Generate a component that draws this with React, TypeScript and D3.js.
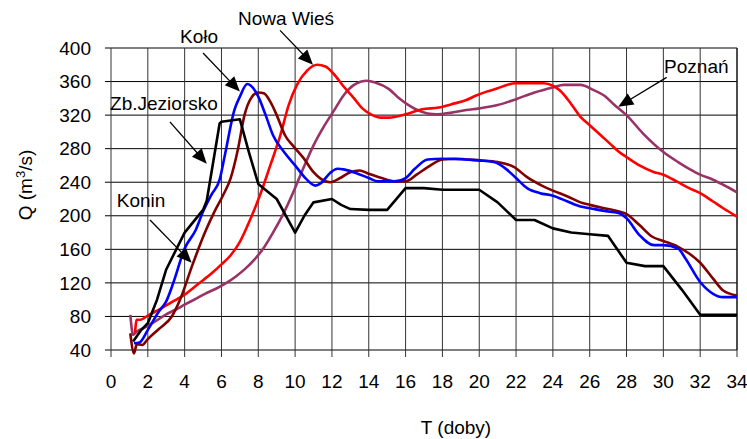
import React from 'react';
import * as d3 from 'd3';

// Q (m3/s) vs T (doby) for the Warta gauges
const xTicks = d3.range(0, 35, 2);
const yTicks = d3.range(40, 401, 40);

const jeziorsko: [number, number][] = [
  [1.2, 50], [1.65, 64], [2, 72], [2.5, 100], [3, 136], [4, 180], [5, 207], [5.2, 218],
  [5.9, 310], [6, 312], [7, 315], [7.5, 275], [8, 238], [8.5, 229], [9, 220], [10, 180],
  [10.5, 200], [11, 216], [12, 220], [12.5, 213], [13, 208], [14, 207], [15, 207],
  [16, 233], [17, 233], [18, 231], [20, 231], [21, 216], [22, 195], [23, 195], [24, 185],
  [25, 180], [26, 178], [27, 176], [28, 144], [29, 140], [30, 140], [31, 112], [32, 82], [34, 82],
];

const kolo: [number, number][] = [
  [1.25, 48], [1.55, 49], [2, 64], [2.6, 86], [3, 98], [3.4, 121], [4, 161], [4.6, 183],
  [5, 205], [5.45, 225], [5.9, 243], [6.2, 274], [6.7, 326], [7, 342], [7.4, 357], [7.6, 355],
  [8, 342], [8.4, 320], [8.8, 296], [9.4, 276], [10, 260], [10.6, 244], [11.1, 236],
  [11.4, 239], [11.9, 251], [12.3, 256], [12.7, 255], [13.3, 251], [14, 245], [14.5, 241],
  [15.4, 241], [16, 245], [16.5, 256], [17.2, 267], [18, 268], [20, 266], [20.8, 264],
  [21.5, 255], [22, 245], [22.6, 233], [23.3, 227], [24, 224], [24.8, 217], [25.5, 211],
  [26, 209], [27, 205], [27.6, 203], [28, 197], [28.7, 177], [29.5, 165], [30, 165],
  [30.8, 161], [31.2, 149], [32, 121], [32.7, 107], [33.25, 103], [34, 103],
];

const konin: [number, number][] = [
  [1.05, 60], [1.25, 36], [1.4, 47], [1.7, 46], [2, 53], [2.6, 65], [3.3, 80], [3.75, 100],
  [4.4, 140], [5.1, 180], [5.6, 204], [6.1, 225], [6.5, 245], [6.9, 280], [7.25, 320],
  [7.6, 340], [8, 347], [8.3, 346], [8.65, 336], [9, 320], [9.45, 296], [9.9, 283],
  [10.45, 269], [11, 252], [11.4, 244], [11.9, 240], [12.45, 245], [13, 252], [13.5, 254],
  [14, 250], [14.7, 245], [15.45, 241], [16, 241], [16.6, 249], [17.2, 258], [18, 267],
  [18.7, 268], [20, 266], [21, 264], [21.9, 258], [22.6, 246], [23.4, 236], [24, 230],
  [24.8, 223], [25.5, 216], [26, 213], [27, 208], [27.6, 205], [28, 202], [28.7, 189],
  [29.4, 175], [30, 170], [30.8, 163], [31.4, 155], [32, 144], [32.7, 125], [33.25, 111], [34, 105],
];

const nowaWies: [number, number][] = [
  [1.3, 60], [1.4, 76], [1.6, 76], [2, 81], [2.75, 90], [3.3, 97], [4, 106], [4.75, 119],
  [5.5, 132], [6, 142], [6.5, 153], [7, 169], [7.55, 195], [8.1, 225], [8.65, 260],
  [9.2, 296], [9.65, 332], [10.1, 356], [10.65, 373], [11.2, 380], [11.65, 378], [12.1, 369],
  [12.6, 355], [13.2, 340], [13.65, 328], [14.2, 320], [14.65, 317], [15.1, 317], [16, 321],
  [16.9, 327], [17.8, 329], [18.5, 333], [19.3, 338], [19.8, 343], [20.4, 348], [21, 352],
  [21.5, 356], [22, 358], [23.5, 358], [24, 355], [24.4, 349], [25, 333], [25.5, 318],
  [26, 308], [26.6, 296], [27.1, 286], [27.6, 276], [28, 270], [28.7, 260], [29.5, 252],
  [30, 249], [30.8, 240], [31.4, 233], [32, 227], [32.7, 217], [33.25, 209], [34, 199],
];

const poznan: [number, number][] = [
  [1.05, 82], [1.2, 58], [1.4, 62], [1.85, 67], [2.4, 74], [2.95, 82], [3.5, 88], [4, 94],
  [4.6, 101], [5.1, 107], [5.7, 113], [6.2, 119], [6.8, 128], [7.3, 137], [7.8, 148],
  [8.3, 162], [8.8, 180], [9.35, 202], [9.9, 228], [10.45, 257], [11, 284], [11.55, 306],
  [12.1, 325], [12.65, 344], [13.2, 356], [13.9, 361], [14.35, 359], [15.1, 351],
  [15.65, 340], [16.55, 327], [17.2, 322], [17.7, 321], [18.5, 323], [19.3, 326], [20, 328],
  [21, 332], [22, 339], [23, 347], [24, 353], [24.6, 356], [25.5, 356], [26.2, 350],
  [26.8, 343], [27.3, 333], [28, 320], [28.9, 298], [30, 276], [30.8, 264], [31.4, 256],
  [32, 249], [32.7, 243], [33.25, 237], [34, 228],
];

const seriesList = [
  { name: 'Poznań', data: poznan, color: '#993366' },
  { name: 'Nowa Wieś', data: nowaWies, color: '#ff0000' },
  { name: 'Konin', data: konin, color: '#800000' },
  { name: 'Koło', data: kolo, color: '#0000ff' },
  { name: 'Zb.Jeziorsko', data: jeziorsko, color: '#000000' },
];

// label position (t, Q), arrow start and arrow tip in data units
const labels = [
  { text: 'Nowa Wieś', at: [6.9, 427], from: [9.18, 421], tip: [10.97, 380] },
  { text: 'Koło', at: [3.75, 406], from: [5.0, 394], tip: [7.0, 348] },
  { text: 'Zb.Jeziorsko', at: [-0.05, 326], from: [3.2, 312], tip: [5.2, 262] },
  { text: 'Konin', at: [0.31, 210], from: [2.12, 195], tip: [4.38, 144] },
  { text: 'Poznań', at: [30.04, 370], from: [30.18, 365], tip: [27.55, 330] },
];

const width = 747;
const height = 439;
const margin = { top: 48, right: 10, bottom: 89, left: 111 };

export default function App() {
  const x = d3.scaleLinear().domain([0, 34]).range([margin.left, width - margin.right]);
  const y = d3.scaleLinear().domain([40, 400]).range([height - margin.bottom, margin.top]);

  const line = d3.line<[number, number]>()
    .x(d => x(d[0]))
    .y(d => y(d[1]));

  const font = "'Liberation Sans', Arial, sans-serif";

  const arrowHead = (fx: number, fy: number, tx: number, ty: number) => {
    const a = Math.atan2(ty - fy, tx - fx);
    const len = 15, half = 6.5;
    const bx = tx - len * Math.cos(a), by = ty - len * Math.sin(a);
    const p1 = [bx + half * Math.sin(a), by - half * Math.cos(a)];
    const p2 = [bx - half * Math.sin(a), by + half * Math.cos(a)];
    return `M${tx},${ty}L${p1[0]},${p1[1]}L${p2[0]},${p2[1]}Z`;
  };

  return (
    <svg width={width} height={height} style={{ position: 'absolute', left: 0, top: 0, background: '#fff' }}
      fontFamily={font}>
      {/* grid */}
      {yTicks.map(v => (
        <line key={'h' + v} x1={x(0) - 6} x2={x(34)} y1={y(v)} y2={y(v)} stroke="#000" strokeWidth={1} />
      ))}
      {xTicks.map(t => (
        <line key={'v' + t} x1={x(t)} x2={x(t)} y1={y(400)} y2={y(40) + 7} stroke="#333" strokeWidth={1} />
      ))}
      <line x1={x(34)} x2={x(34)} y1={y(400)} y2={y(40)} stroke="#000" strokeWidth={1} />

      {/* series */}
      {seriesList.map(s => (
        <path key={s.name}
          d={(s.name === 'Zb.Jeziorsko' ? line.curve(d3.curveLinear) : line.curve(d3.curveMonotoneX))(s.data) || ''}
          fill="none" stroke={s.color} strokeWidth={2.6} strokeLinejoin="round" />
      ))}

      {/* tick labels */}
      {yTicks.map(v => (
        <text key={'yl' + v} x={x(0) - 20} y={y(v)} dy="0.35em" textAnchor="end" fontSize={19}>{v}</text>
      ))}
      {xTicks.map(t => (
        <text key={'xl' + t} x={x(t)} y={388} textAnchor="middle" fontSize={19}>{t}</text>
      ))}

      {/* axis titles */}
      <text x={456} y={434} textAnchor="middle" fontSize={19}>T (doby)</text>
      <text transform="translate(32,185) rotate(-90)" textAnchor="middle" fontSize={19}>
        Q (m<tspan dy="-7" fontSize={13}>3</tspan><tspan dy="7">/s)</tspan>
      </text>

      {/* annotations */}
      {labels.map(l => {
        const fx = x(l.from[0]), fy = y(l.from[1]);
        const tx = x(l.tip[0]), ty = y(l.tip[1]);
        const a = Math.atan2(ty - fy, tx - fx);
        return (
          <g key={l.text}>
            <text x={x(l.at[0])} y={y(l.at[1])} fontSize={19}>{l.text}</text>
            <line x1={fx} y1={fy} x2={tx - 10 * Math.cos(a)} y2={ty - 10 * Math.sin(a)} stroke="#000" strokeWidth={1.3} />
            <path d={arrowHead(fx, fy, tx, ty)} fill="#000" />
          </g>
        );
      })}
    </svg>
  );
}
